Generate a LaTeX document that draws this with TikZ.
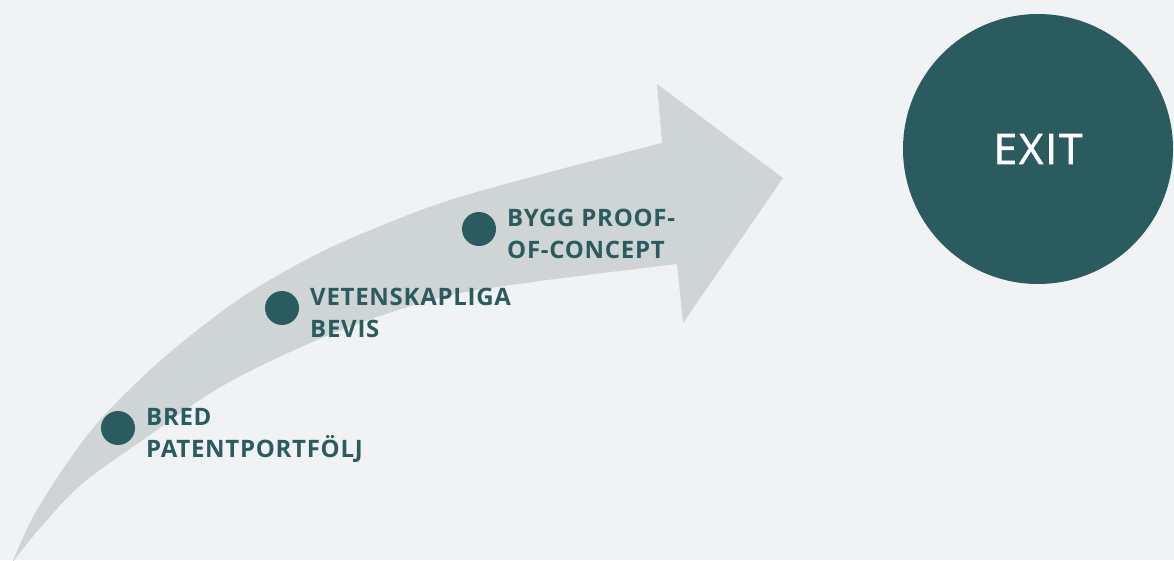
\documentclass[tikz,border=0pt]{standalone}
\usepackage{fontspec}
\setmainfont{Open Sans}
\newfontfamily\lblfont{Open Sans Bold}[LetterSpace=3]
\newfontfamily\exitfont{Open Sans}[FakeBold=1.5, LetterSpace=5]
\definecolor{bgc}{HTML}{F1F2F4}
\definecolor{arrowc}{HTML}{CFD5D5}
\definecolor{teal}{HTML}{2A5C5F}
\tikzset{
  dot/.style={circle, fill=teal, minimum size=34pt, inner sep=0pt},
  lbl/.style={anchor=base west, align=left, text=teal, inner sep=0pt,
    font=\lblfont\fontsize{24}{32}\selectfont},
}
\begin{document}
\begin{tikzpicture}[x=1pt,y=-1pt]
\fill[bgc] (0,0) rectangle (1174,560);
\useasboundingbox (0,0) rectangle (1174,560);
% curved arrow
\fill[arrowc] plot[smooth, tension=0.55] coordinates {(12,563) (33,517) (67,463) (100,420) (150,370) (200,328) (250,292) (317,254) (383,225) (450,200) (550,172) (662,143)}
  -- (657,84) -- (783,178) -- (683,323) -- (677,264)
  -- plot[smooth, tension=0.55] coordinates {(677,264) (540,281) (447,296) (363,322) (290,352) (217,389) (150,435) (83,483) (40,528) (12,563)}
  -- cycle;
% milestones
\node[dot] (d1) at (118,428) {};
\node[dot] (d2) at (282,308) {};
\node[dot] (d3) at (479,229) {};
\node[lbl] (t1) at (146,457) {BRED\\PATENTPORTFÖLJ};
\node[lbl] (t2) at (310,337) {VETENSKAPLIGA\\BEVIS};
\node[lbl] (t3) at (507,258) {BYGG PROOF-\\OF-CONCEPT};
% exit
\node[circle, fill=teal, minimum size=270pt, inner sep=0pt, text=white,
  font=\exitfont\fontsize{42}{42}\selectfont] (exit) at (1038,149) {EXIT};
\end{tikzpicture}
\end{document}
